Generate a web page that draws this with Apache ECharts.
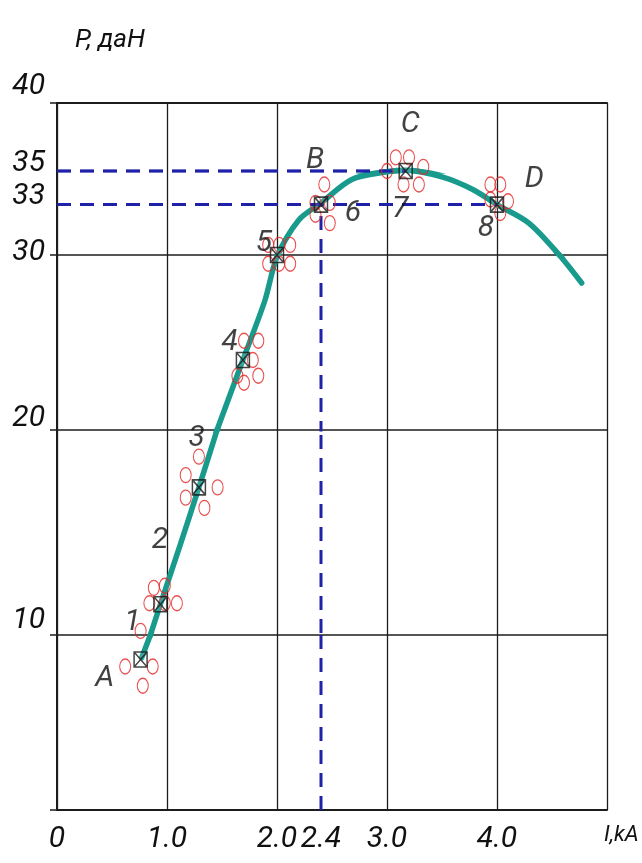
<!DOCTYPE html>
<html>
<head>
<meta charset="utf-8">
<script src="https://cdn.jsdelivr.net/npm/echarts@6/dist/echarts.min.js"></script>
<style>
  html, body { margin: 0; padding: 0; background: #ffffff; }
  #chart { width: 642px; height: 863px; }
</style>
</head>
<body>
<div id="chart"></div>
<script>
// Pull force P (daN) against current I (kA)

// Fitted characteristic curve
const curveI = [0.77, 0.94, 1.12, 1.29, 1.49, 1.69, 1.89, 2.00, 2.20, 2.40, 2.68, 3.00, 3.17, 3.50, 3.78, 4.00, 4.29, 4.58, 4.77];
const curveP = [8.7, 11.5, 14.4, 17.2, 20.6, 24.0, 27.4, 29.9, 32.1, 33.1, 34.5, 34.95, 35.05, 34.65, 33.9, 33.0, 31.9, 29.9, 28.4];

// Averaged points (boxed marks): A, 1, 3, 4, 5, B, C, D
const pointI = [0.76, 0.94, 1.29, 1.69, 2.00, 2.40, 3.17, 4.00];
const pointP = [8.6, 11.5, 17.2, 24.0, 30.0, 33.0, 35.0, 33.0];

// Individual trials scattered round each averaged point
const trialI = [0.88, 0.98, 0.84, 0.98, 1.09, 0.76, 0.62, 0.87, 0.78,
                1.29, 1.17, 1.17, 1.46, 1.34,
                1.70, 1.83, 1.78, 1.64, 1.70, 1.83,
                1.92, 2.02, 2.12, 1.92, 2.02, 2.12,
                2.43, 2.35, 2.48, 2.35, 2.48,
                3.08, 3.20, 3.00, 3.33, 3.15, 3.29,
                3.94, 4.03, 3.94, 4.10, 4.03];
const trialP = [12.3, 12.4, 11.55, 11.55, 11.55, 10.2, 8.2, 8.2, 7.1,
                18.7, 17.8, 16.7, 17.2, 16.2,
                25.1, 25.1, 24.0, 23.1, 22.7, 23.1,
                30.6, 30.6, 30.6, 29.5, 29.5, 29.5,
                34.2, 33.1, 33.1, 32.4, 31.9,
                36.0, 36.0, 35.0, 35.3, 34.2, 34.2,
                34.2, 34.2, 33.3, 33.2, 32.5];

// Point captions
const tagText = ['A', '1', '2', '3', '4', '5', 'B', '6', 'C', '7', '8', 'D'];
const tagI = [0.435, 0.685, 0.935, 1.27, 1.57, 1.88, 2.345, 2.69, 3.21, 3.12, 3.90, 4.34];
const tagP = [7.5, 10.6, 14.6, 19.6, 25.0, 30.7, 35.8, 32.5, 38.4, 32.7, 31.6, 34.5];

// Axis ticks
const xTickValues = [0, 1, 2, 2.4, 3, 4];
const yTickValues = [10, 20, 30, 33, 35, 40];
const yRuleValues = [0, 10, 20, 30, 40];

// Indices of the points the dashed guides are drawn from
const guideB = 5, guideC = 6, guideD = 7;

// ---------- layout: the P scale is drawn as stacked bands ----------
const bands = [
  { lo: 0,  hi: 10, top: 635, height: 175, lift: 15 },
  { lo: 10, hi: 20, top: 430, height: 205, lift: 12 },
  { lo: 20, hi: 30, top: 255, height: 175, lift: 3 },
  { lo: 30, hi: 35, top: 171, height: 84,  lift: 8 },
  { lo: 35, hi: 40, top: 103, height: 68,  lift: 17 }
];
const plotLeft = 57, plotRight = 35;
const ink = '#1c1c1c';
const textColor = '#111111';
const font = "Roboto, 'Liberation Sans', sans-serif";
const textBase = { color: textColor, fontFamily: font, fontStyle: 'italic', fontWeight: 'normal' };

const curve = curveI.map((v, i) => [v, curveP[i]]);
const points = pointI.map((v, i) => [v, pointP[i]]);
const trials = trialI.map((v, i) => [v, trialP[i]]);
const tags = tagI.map((v, i) => ({ name: tagText[i], value: [v, tagP[i]] }));
const guides = [
  [[0, pointP[guideC]], [pointI[guideC], pointP[guideC]]],
  [[0, pointP[guideD]], [pointI[guideD], pointP[guideD]]],
  [[pointI[guideB], 0], [pointI[guideB], pointP[guideB]]]
];

const inBand = (b, i, p) => p >= b.lo && (p < b.hi || (i === bands.length - 1 && p <= b.hi));
const boxSymbol = 'path://M0,0L12,0L12,14L0,14Z M0,0L12,14 M12,0L0,14';

const grid = bands.map(b => ({
  left: plotLeft, right: plotRight, top: b.top, height: b.height,
  containLabel: false, outerBoundsMode: 'none'
}));

const xAxis = bands.map((b, i) => ({
  type: 'value', gridIndex: i, min: 0, max: 5, interval: 1,
  position: i === bands.length - 1 ? 'top' : 'bottom',
  axisLine: { show: i === 0 || i === bands.length - 1, onZero: false, lineStyle: { color: ink, width: 2 } },
  axisTick: { show: false },
  axisLabel: i === 0 ? Object.assign({
    show: true, customValues: xTickValues, margin: 14,
    formatter: v => (v === 0 ? '0' : v.toFixed(1)), fontSize: 30
  }, textBase) : { show: false },
  splitLine: { show: true, lineStyle: { color: ink, width: 1.3 } },
  name: i === 0 ? 'I,kA' : '',
  nameLocation: 'end', nameGap: -3,
  nameTextStyle: Object.assign({ fontSize: 22, align: 'left', verticalAlign: 'top', padding: [14, 0, 0, 0] }, textBase)
}));

const yAxis = bands.map((b, i) => {
  const labels = yTickValues.filter(v => v > b.lo && v <= b.hi);
  const rules = yRuleValues.filter(v => v >= b.lo && v <= b.hi && (i === 0 || v > b.lo));
  return {
    type: 'value', gridIndex: i, min: b.lo, max: b.hi, interval: b.hi - b.lo,
    axisLine: { show: true, onZero: false, lineStyle: { color: ink, width: 2 } },
    axisTick: rules.length ? { show: true, customValues: rules, length: 7, lineStyle: { color: ink, width: 1.5 } } : { show: false },
    axisLabel: Object.assign({
      show: labels.length > 0, customValues: labels, margin: 12, fontSize: 30,
      verticalAlign: 'bottom', lineHeight: b.lift * 2
    }, textBase),
    splitLine: { show: i < 3, lineStyle: { color: ink, width: 1.5 } },
    name: i === bands.length - 1 ? 'P, даН' : '',
    nameLocation: 'end', nameGap: 50,
    nameTextStyle: Object.assign({ fontSize: 26, align: 'left', padding: [0, 0, 0, 18] }, textBase)
  };
});

const series = [];
bands.forEach((b, i) => {
  const ax = { xAxisIndex: i, yAxisIndex: i };
  series.push(Object.assign({
    type: 'line', data: curve, smooth: 0.3, symbol: 'none', clip: true, z: 2,
    lineStyle: { color: '#189a8d', width: 5.5, cap: 'round' }
  }, ax));
  guides.forEach(g => series.push(Object.assign({
    type: 'line', data: g, symbol: 'none', clip: true, z: 3,
    lineStyle: { color: '#1f22a8', width: 3, type: [14, 9] }
  }, ax)));
  series.push(Object.assign({
    type: 'scatter', clip: true, z: 4,
    data: trials.filter(d => inBand(b, i, d[1])),
    symbol: 'circle', symbolSize: [11, 15],
    itemStyle: { color: 'rgba(255,255,255,0)', borderColor: '#e32424', borderWidth: 1.2 }
  }, ax));
  series.push(Object.assign({
    type: 'scatter', clip: true, z: 5,
    data: points.filter(d => inBand(b, i, d[1])),
    symbol: boxSymbol, symbolSize: [13, 15],
    itemStyle: { color: 'rgba(255,255,255,0.15)', borderColor: '#161616', borderWidth: 1.6 }
  }, ax));
  series.push(Object.assign({
    type: 'scatter', clip: true, z: 6,
    data: tags.filter(d => inBand(b, i, d.value[1])),
    symbolSize: 1, itemStyle: { color: 'rgba(0,0,0,0)' },
    label: Object.assign({ show: true, position: 'inside', formatter: '{b}', fontSize: 30 }, textBase)
  }, ax));
});

const chart = echarts.init(document.getElementById('chart'), null, { renderer: 'canvas' });
chart.setOption({
  backgroundColor: '#ffffff',
  animation: false,
  grid, xAxis, yAxis, series
});
</script>
</body>
</html>
